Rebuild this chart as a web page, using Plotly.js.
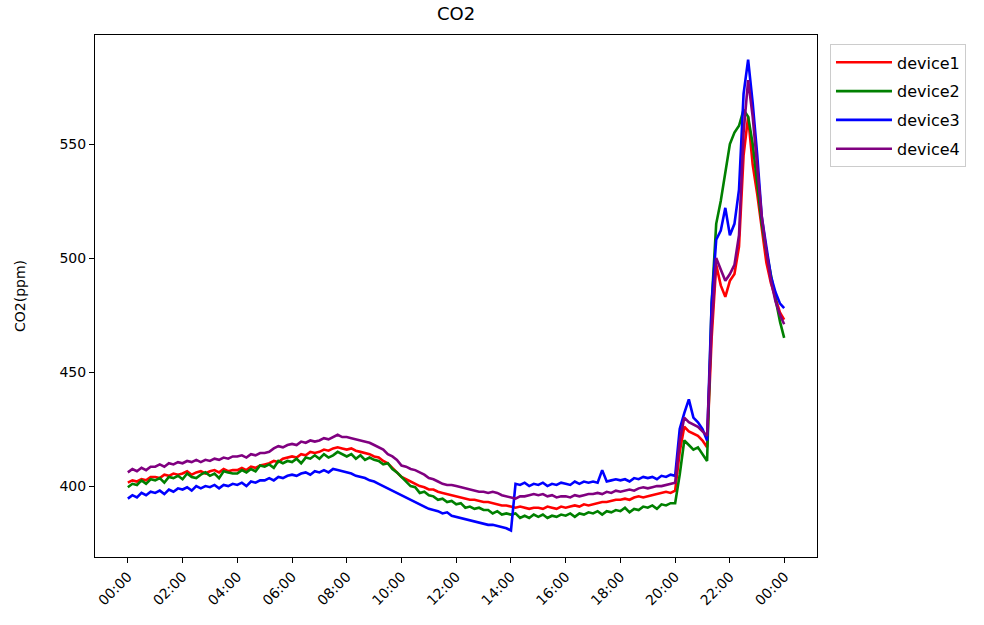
<!DOCTYPE html>
<html>
<head>
<meta charset="utf-8">
<script src="https://cdn.plot.ly/plotly-3.0.1.min.js"></script>
<style>html,body{margin:0;padding:0;background:#fff;}#chart{width:984px;height:625px;}</style>
</head>
<body>
<div id="chart"></div>
<script>
// Sample times: every 10 minutes from 00:00 to 23:50, plus 23:59
var sampleStepMinutes = 10;
var lastSample = "23:59";

var tickLabels = ["00:00","02:00","04:00","06:00","08:00","10:00","12:00","14:00","16:00","18:00","20:00","22:00","00:00"];

var seriesNames = ["device1","device2","device3","device4"];

// device1 (red), rows = hours 0..23, 6 samples per hour, then 23:59
var device1 = [
  401.5, 402.5, 402, 403, 402.5, 404,
  404, 403.5, 405, 404.5, 405.5, 405,
  405.5, 406.5, 405, 406, 406.5, 405.5,
  406.5, 407, 406, 407.5, 406.5, 407,
  407, 408, 407, 408.5, 408, 409,
  409.5, 410, 411, 410.5, 412, 412.5,
  413, 412.5, 414, 413.5, 415, 414.5,
  415, 416, 415.5, 416.5, 417, 416.5,
  416, 416.5, 415.5, 415, 414.5, 414,
  413, 412.5, 411, 410, 408, 406,
  404, 403, 402, 401, 400, 399.5,
  398.5, 398.5, 397.5, 397, 396.5, 396,
  395.5, 395, 394.5, 394, 394, 393.5,
  393, 393, 392.5, 392, 391.5, 391.5,
  391, 390.5, 391, 390.5, 390, 390.5,
  390.5, 390, 391, 390.5, 390, 391,
  390.5, 391, 391.5, 391, 392, 391.5,
  392, 392.5, 393, 393, 393.5, 394,
  394, 394.5, 394, 395, 395.5, 395,
  395.5, 396, 396.5, 397, 397.5, 397,
  398, 415, 426, 424, 423, 422,
  420, 417, 465, 497, 488, 483,
  490, 493, 505, 545, 562, 541,
  528, 512, 498, 489, 482, 476,
  473
];

// device2 (green)
var device2 = [
  399.5, 401, 400.5, 402.5, 401, 403,
  402.5, 403.5, 401.5, 404, 403.5, 404.5,
  403, 405.5, 404, 403.5, 405, 406,
  404.5, 405.5, 403.5, 406.5, 406, 405.5,
  405.5, 407, 406, 407.5, 406.5, 409,
  408.5, 409.5, 408, 411, 410, 411,
  410.5, 412, 410, 412.5, 412, 413.5,
  412, 414, 412.5, 413.5, 415, 414,
  413, 414, 412, 413.5, 411.5, 412.5,
  411.5, 411, 409.5, 410, 407.5, 406,
  404, 402, 400, 399.5, 397, 397.5,
  396, 395.5, 394, 394.5, 393, 393.5,
  392, 392.5, 390.5, 391, 390, 390.5,
  389.5, 389.5, 388, 389, 387.5, 388,
  387.5, 388, 386, 387, 386, 387.5,
  386.5, 387.5, 386, 387, 386.5, 387.5,
  387, 388, 386.5, 388, 387.5, 388.5,
  388, 389, 387.5, 389, 388.5, 389.5,
  389, 390.5, 388.5, 390, 389.5, 391,
  390.5, 391.5, 390, 392, 391.5, 392.5,
  392.5, 405, 420, 418, 416, 417,
  414, 411, 480, 515, 525, 537,
  550, 555, 558, 565, 562, 550,
  532, 515, 503, 492, 482, 472,
  465
];

// device3 (blue)
var device3 = [
  394.5, 396, 395, 397, 396, 397.5,
  397, 398, 396.5, 398.5, 397.5, 399,
  398.5, 399.5, 398, 400, 399, 400,
  399.5, 400.5, 399, 400.5, 400, 401,
  400.5, 401.5, 400, 402, 401.5, 402.5,
  402.5, 403.5, 402.5, 404, 403.5, 404.5,
  405, 404.5, 405.5, 406, 405, 406.5,
  406, 407, 406, 407.5, 407, 406.5,
  406, 405.5, 404.5, 404, 403.5, 402.5,
  402, 401, 400, 399, 398, 397,
  396, 395, 394, 393, 392, 391,
  390, 389.5, 389, 388, 388.5, 387,
  386.5, 386, 385.5, 385, 384.5, 384,
  383.5, 383, 383, 382.5, 382, 381.5,
  380.5, 401, 400.5, 401.5, 400, 401,
  400.5, 401.5, 400, 401, 400.5, 401.5,
  401, 400.5, 402, 401, 402, 401.5,
  402, 401.5, 407, 402, 402.5, 403,
  402.5, 403, 402, 403.5, 403, 404,
  403.5, 404, 403, 404.5, 404, 405,
  404.5, 425, 432, 438, 430, 428,
  425, 420, 480, 508, 512, 522,
  510, 515, 530, 572, 587, 568,
  545, 518, 505, 492, 485, 480,
  478
];

// device4 (purple)
var device4 = [
  406, 407.5, 406.5, 408, 407, 408.5,
  408.5, 409.5, 408.5, 410, 409.5, 410.5,
  410, 411, 410.5, 411.5, 410.5, 411.5,
  411, 412, 411.5, 412.5, 412, 413,
  413, 413.5, 412.5, 414, 413.5, 414.5,
  414.5, 415, 416.5, 417.5, 417, 418,
  418.5, 418, 419.5, 419, 420, 419.5,
  420, 421, 420.5, 421.5, 422.5, 421.5,
  421.5, 421, 420.5, 420, 419.5, 419,
  418, 417, 416, 414, 413, 411.5,
  409, 408.5, 407.5, 407, 406, 405,
  403.5, 403, 402, 401, 400.5, 400.5,
  400, 399.5, 399, 398.5, 398, 397.5,
  397.5, 397, 397.5, 397, 396, 395.5,
  395, 394.5, 395.5, 395.5, 396, 396.5,
  396, 396.5, 395.5, 396, 395, 395.5,
  395.5, 395, 396, 395.5, 396, 396.5,
  396.5, 397, 396.5, 397.5, 397, 398,
  397.5, 398, 398.5, 398, 399, 399.5,
  399, 399.5, 400, 400, 400.5, 401,
  401.5, 420, 430, 428, 427, 426,
  424, 422, 470, 500, 495, 490,
  493, 497, 510, 555, 578, 562,
  540, 518, 503, 490, 481, 475,
  471
];

var seriesColors = ["red","green","blue","purple"];

function pad(n){ return (n < 10 ? "0" : "") + n; }
var times = [];
for (var m = 0; m < 24*60; m += sampleStepMinutes) {
  times.push("2024-01-01 " + pad(Math.floor(m/60)) + ":" + pad(m%60) + ":00");
}
times.push("2024-01-01 " + lastSample + ":00");

var allSeries = [device1, device2, device3, device4];
var traces = allSeries.map(function(vals, i){
  return {
    x: times, y: vals, type: "scatter", mode: "lines",
    name: seriesNames[i], legendgroup: seriesNames[i],
    line: {color: seriesColors[i], width: 2.6}
  };
});

var tickVals = [];
for (var h = 0; h <= 24; h += 2) {
  tickVals.push(h === 24 ? "2024-01-02 00:00:00" : "2024-01-01 " + pad(h) + ":00:00");
}

var font = "DejaVu Sans, sans-serif";
var layout = {
  width: 984, height: 625,
  paper_bgcolor: "#fff", plot_bgcolor: "#fff",
  margin: {l: 95, r: 167, t: 35, b: 68},
  font: {family: font, size: 14, color: "#000"},
  title: {text: "CO2", font: {family: font, size: 18, color: "#000"}, x: 0.4635, xanchor: "center", y: 0.978, yanchor: "middle"},
  showlegend: true,
  legend: {
    x: 1.018, xanchor: "left", y: 0.982, yanchor: "top",
    bordercolor: "#cccccc", borderwidth: 1, bgcolor: "#fff",
    font: {family: font, size: 16, color: "#000"},
    itemwidth: 56,
    tracegroupgap: 5
  },
  xaxis: {
    type: "date",
    range: ["2023-12-31 22:48:00", "2024-01-02 01:11:00"],
    tickmode: "array", tickvals: tickVals, ticktext: tickLabels,
    tickangle: -45,
    ticks: "outside", ticklen: 5, tickcolor: "#000", tickwidth: 1,
    showgrid: false, zeroline: false,
    showline: true, linecolor: "#000", linewidth: 1, mirror: true,
    tickfont: {family: font, size: 14, color: "#000"}
  },
  yaxis: {
    range: [368.9, 597.8],
    tickmode: "array", tickvals: [400, 450, 500, 550],
    ticks: "outside", ticklen: 5, tickcolor: "#000", tickwidth: 1,
    showgrid: false, zeroline: false,
    showline: true, linecolor: "#000", linewidth: 1, mirror: true,
    tickfont: {family: font, size: 14, color: "#000"},
    title: {text: "CO2(ppm)", font: {family: font, size: 14, color: "#000"}, standoff: 30}
  }
};

Plotly.newPlot("chart", traces, layout, {staticPlot: true, displayModeBar: false});
</script>
</body>
</html>
